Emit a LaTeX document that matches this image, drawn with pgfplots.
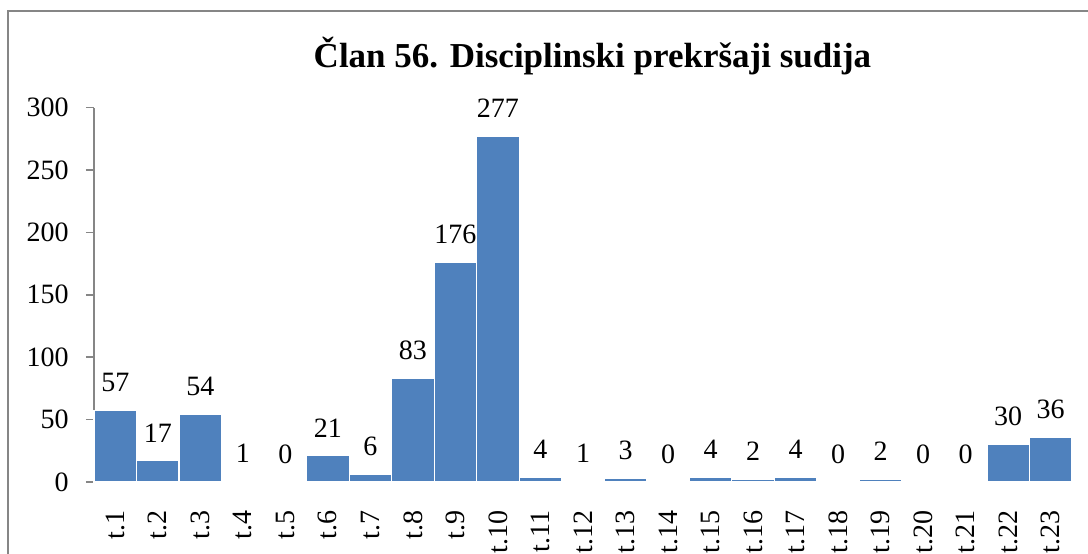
\documentclass[border=0pt]{standalone}
\usepackage{fontspec}
\setmainfont{Liberation Serif}
\usepackage{pgfplots}
\pgfplotsset{compat=1.18}
\definecolor{barblue}{HTML}{4F81BD}
\definecolor{axgray}{HTML}{868686}
\pgfplotstableread{
x y
0 57
1 17
2 54
3 1
4 0
5 21
6 6
7 83
8 176
9 277
10 4
11 1
12 3
13 0
14 4
15 2
16 4
17 0
18 2
19 0
20 0
21 30
22 36
}\datatable
\begin{document}
\begin{tikzpicture}
\useasboundingbox (0,0) rectangle (544pt,276.5pt);
\draw[axgray, line width=0.75pt] (4pt,-2pt) -- (4pt,271pt) -- (546pt,271pt);
\node[font=\fontsize{17.5}{20}\selectfont\bfseries, anchor=base] at (296.25pt,243pt) {Član 56. Disciplinski prekršaji sudija};
\begin{axis}[
  at={(47pt,35.5pt)}, anchor=south west,
  scale only axis, width=489pt, height=187.25pt,
  xmin=-0.5, xmax=22.5, ymin=0, ymax=300,
  ytick={0,50,...,300},
  xtick={0,...,22},
  xticklabels={t.1,t.2,t.3,t.4,t.5,t.6,t.7,t.8,t.9,t.10,t.11,t.12,t.13,t.14,t.15,t.16,t.17,t.18,t.19,t.20,t.21,t.22,t.23},
  axis lines*=left,
  axis line style={axgray, line width=0.75pt},
  tick align=outside,
  major tick length=4pt,
  ytick style={axgray, line width=0.75pt},
  xtick style={draw=none},
  /pgf/number format/assume math mode=true,
  tick label style={font=\fontsize{14}{16}\selectfont},
  yticklabel style={anchor=east, inner sep=0pt, xshift=-8.5pt},
  xticklabel style={yshift=-10pt, rotate=90, anchor=east, inner sep=0pt},
  ybar, bar width=21.25pt,
  nodes near coords,
  every node near coord/.append style={font=\fontsize{14}{16}\selectfont, anchor=south, inner sep=0pt, yshift=9pt, black},
  clip=false,
]
\addplot[fill=barblue, draw=white, line width=0.6pt] table[x=x, y=y] {\datatable};
\end{axis}
\end{tikzpicture}
\end{document}
